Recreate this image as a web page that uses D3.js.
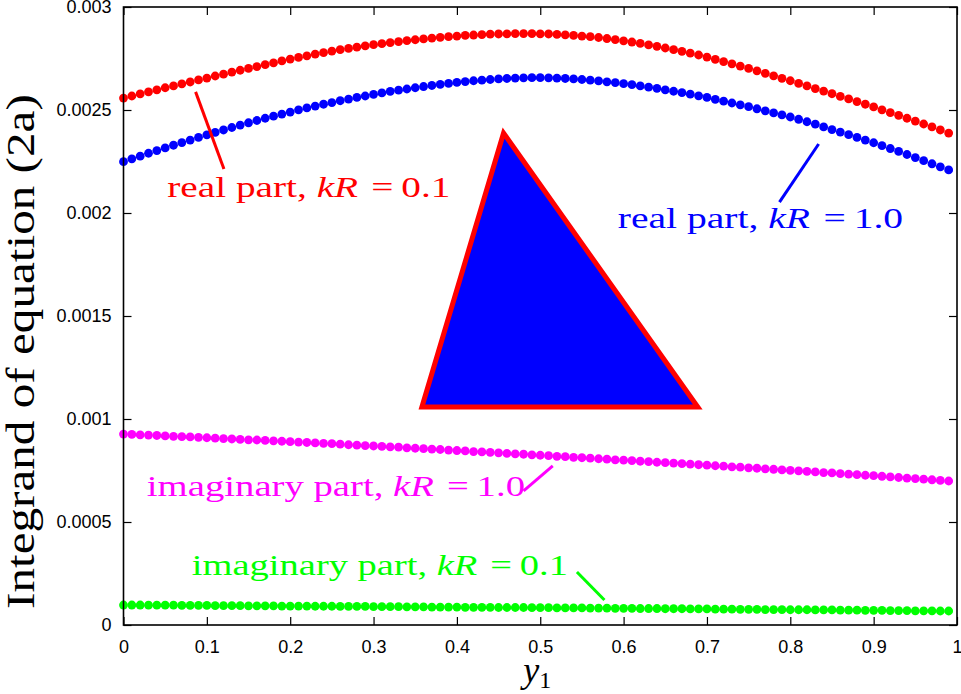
<!DOCTYPE html>
<html lang="en">
<head>
<meta charset="UTF-8">
<title>Integrand of equation (2a)</title>
<style>
    body { margin: 0; background: #fff; }
    svg { display: block; }
    .lab { font-family: "Liberation Serif", "Times New Roman", serif; }
</style>
</head>
<body>
<script src="https://cdn.jsdelivr.net/npm/d3@7"></script>
<script type="text/javascript">
    var w = 961;
    var h = 694;
    var margin = {left: 123.5, right: 4, top: 7, bottom: 69};

    // y1 positions, step 0.01 from 0 to 0.99
    var xs = d3.range(100).map(function(i) { return i / 100; });

    // values, in units of 1e-6
    var realKR01 = [
        2558, 2568, 2578, 2588, 2598, 2608, 2617, 2627, 2636, 2646, 2655,
        2665, 2674, 2684, 2693, 2702, 2711, 2720, 2729, 2738, 2747,
        2755, 2763, 2771, 2779, 2786, 2793, 2799, 2805, 2811, 2817,
        2822, 2827, 2832, 2837, 2841, 2845, 2849, 2853, 2856, 2859,
        2862, 2864, 2866, 2868, 2869, 2870, 2871, 2871, 2871, 2870,
        2869, 2867, 2865, 2862, 2859, 2856, 2852, 2847, 2842, 2836,
        2830, 2823, 2816, 2809, 2801, 2793, 2785, 2776, 2767, 2757,
        2746, 2735, 2724, 2713, 2702, 2690, 2678, 2666, 2654, 2642,
        2629, 2617, 2604, 2592, 2579, 2566, 2554, 2541, 2528, 2515,
        2501, 2487, 2474, 2460, 2446, 2432, 2418, 2403, 2388
    ];
    var realKR10 = [
        2249, 2263, 2276, 2290, 2303, 2316, 2329, 2342, 2354, 2367, 2379,
        2391, 2403, 2415, 2427, 2438, 2449, 2460, 2470, 2480, 2490,
        2501, 2510, 2519, 2528, 2536, 2545, 2553, 2561, 2568, 2576,
        2583, 2590, 2596, 2602, 2608, 2614, 2619, 2624, 2629, 2634,
        2638, 2642, 2645, 2648, 2651, 2653, 2655, 2656, 2657, 2657,
        2656, 2655, 2653, 2651, 2648, 2645, 2641, 2637, 2633, 2628,
        2623, 2617, 2611, 2605, 2598, 2591, 2584, 2577, 2569, 2561,
        2552, 2543, 2534, 2525, 2516, 2506, 2496, 2486, 2476, 2466,
        2455, 2443, 2431, 2418, 2405, 2393, 2380, 2367, 2354, 2341,
        2327, 2313, 2299, 2284, 2269, 2254, 2239, 2224, 2209
    ];
    var imagKR10 = [
        927, 925, 923, 922, 920, 918, 916, 914, 913, 911, 909,
        907, 905, 903, 901, 899, 898, 896, 894, 892, 890,
        888, 886, 884, 882, 880, 878, 875, 873, 871, 869,
        867, 865, 863, 860, 858, 856, 854, 852, 849, 847,
        845, 842, 840, 838, 836, 833, 831, 829, 826, 824,
        822, 819, 817, 814, 812, 810, 807, 805, 802, 800,
        798, 795, 793, 790, 788, 786, 783, 781, 778, 776,
        773, 771, 768, 766, 763, 761, 758, 756, 753, 751,
        748, 746, 743, 740, 738, 735, 732, 730, 727, 725,
        722, 719, 716, 713, 711, 708, 705, 702, 699
    ];
    var imagKR01 = [
        97, 97, 97, 96, 96, 96, 96, 95, 95, 95, 95,
        94, 94, 94, 94, 93, 93, 93, 93, 92, 92,
        92, 92, 91, 91, 91, 90, 90, 90, 90, 89,
        89, 89, 89, 88, 88, 88, 87, 87, 87, 87,
        86, 86, 86, 86, 85, 85, 85, 85, 84, 84,
        84, 83, 83, 83, 83, 82, 82, 82, 81, 81,
        81, 80, 80, 80, 79, 79, 79, 78, 78, 78,
        77, 77, 77, 76, 76, 76, 75, 75, 75, 74,
        74, 74, 73, 73, 73, 72, 72, 72, 71, 71,
        71, 70, 70, 70, 69, 69, 69, 68, 68
    ];

    var xTicks = [0, 0.1, 0.2, 0.3, 0.4, 0.5, 0.6, 0.7, 0.8, 0.9, 1];
    var xTickLabels = ["0", "0.1", "0.2", "0.3", "0.4", "0.5", "0.6", "0.7", "0.8", "0.9", "1"];
    var yTicks = [0, 0.0005, 0.001, 0.0015, 0.002, 0.0025, 0.003];
    var yTickLabels = ["0", "0.0005", "0.001", "0.0015", "0.002", "0.0025", "0.003"];

    var series = [
        {values: realKR01, color: "#ff0000"},
        {values: realKR10, color: "#0000ff"},
        {values: imagKR10, color: "#ff00ff"},
        {values: imagKR01, color: "#00ff00"}
    ];

    var xScale = d3.scaleLinear().domain([0, 1]).range([margin.left, w - margin.right]);
    var yScale = d3.scaleLinear().domain([0, 0.003]).range([h - margin.bottom, margin.top]);

    var svg = d3.select("body").append("svg")
        .attr("width", w)
        .attr("height", h);

    //Dots
    series.forEach(function(s) {
        svg.append("g")
            .selectAll("circle")
            .data(s.values)
            .enter()
            .append("circle")
            .attr("cx", function(d, i) { return xScale(xs[i]); })
            .attr("cy", function(d) { return yScale(d * 1e-6); })
            .attr("r", 4.4)
            .attr("fill", s.color);
    });

    //Axes with inward ticks, mirrored
    var tick = 8;
    svg.append("g")
        .attr("transform", "translate(0," + yScale(0) + ")")
        .call(d3.axisBottom(xScale).tickValues(xTicks).tickSize(-tick).tickPadding(tick + 7)
            .tickFormat(function(d, i) { return xTickLabels[i]; }))
        .call(function(g) { g.select(".domain").remove(); });
    svg.append("g")
        .attr("transform", "translate(0," + yScale(0.003) + ")")
        .call(d3.axisTop(xScale).tickValues(xTicks).tickSize(-tick).tickFormat(""))
        .call(function(g) { g.select(".domain").remove(); });
    svg.append("g")
        .attr("transform", "translate(" + xScale(0) + ",0)")
        .call(d3.axisLeft(yScale).tickValues(yTicks).tickSize(-tick).tickPadding(tick + 4)
            .tickFormat(function(d, i) { return yTickLabels[i]; }))
        .call(function(g) { g.select(".domain").remove(); });
    svg.append("g")
        .attr("transform", "translate(" + xScale(1) + ",0)")
        .call(d3.axisRight(yScale).tickValues(yTicks).tickSize(-tick).tickFormat(""))
        .call(function(g) { g.select(".domain").remove(); });
    svg.selectAll(".tick line").attr("stroke", "#000").attr("stroke-width", 1.2);
    svg.selectAll(".tick text")
        .attr("fill", "#000")
        .style("font-family", "'Liberation Sans', Arial, sans-serif")
        .style("font-size", "18px");

    svg.append("rect")
        .attr("x", xScale(0))
        .attr("y", yScale(0.003))
        .attr("width", xScale(1) - xScale(0))
        .attr("height", yScale(0) - yScale(0.003))
        .attr("fill", "none")
        .attr("stroke", "#000")
        .attr("stroke-width", 1.6);

    //Triangle
    var tri = [[0.456, 0.002388], [0.358, 0.001058], [0.689, 0.001058]];
    svg.append("polygon")
        .attr("points", tri.map(function(p) { return xScale(p[0]) + "," + yScale(p[1]); }).join(" "))
        .attr("fill", "#0000ff")
        .attr("stroke", "#ff0000")
        .attr("stroke-width", 5)
        .attr("stroke-linejoin", "miter");

    // stretch a text sideways so it fills the width the reference (Computer Modern) takes
    function fitWidth(t, x, y, width, rot) {
        var natural = t.node().getComputedTextLength();
        var sx = width / natural;
        t.attr("transform", "translate(" + x + "," + y + ")" + (rot ? " rotate(" + rot + ")" : "") + " scale(" + sx + ",1)");
    }

    //Labels with leader lines
    var labels = [
        {pre: "real part, ", val: "0.1", x: 0.0525, y: 0.00208, width: 278, color: "#ff0000",
            line: [[0.0865, 0.002588], [0.1205, 0.002214]]},
        {pre: "real part, ", val: "1.0", x: 0.593, y: 0.001925, width: 280, color: "#0000ff",
            line: [[0.834, 0.002335], [0.787, 0.002053]]},
        {pre: "imaginary part, ", val: "1.0", x: 0.028, y: 0.000626, width: 373, color: "#ff00ff",
            line: [[0.515, 0.000772], [0.48, 0.000651]]},
        {pre: "imaginary part, ", val: "0.1", x: 0.082, y: 0.000243, width: 371, color: "#00ff00",
            line: [[0.544, 0.000257], [0.577, 0.000121]]}
    ];
    labels.forEach(function(l) {
        svg.append("line")
            .attr("x1", xScale(l.line[0][0])).attr("y1", yScale(l.line[0][1]))
            .attr("x2", xScale(l.line[1][0])).attr("y2", yScale(l.line[1][1]))
            .attr("stroke", l.color)
            .attr("stroke-width", 3);
        var t = svg.append("text")
            .attr("class", "lab")
            .attr("font-size", "29px")
            .attr("fill", l.color);
        t.append("tspan").text(l.pre);
        t.append("tspan").attr("font-style", "italic").text("kR");
        t.append("tspan").text("\u2009=\u2009" + l.val).attr("dx", 4);
        fitWidth(t, xScale(l.x), yScale(l.y), l.width);
    });

    //Axis titles
    var yt = svg.append("text")
        .attr("class", "lab")
        .attr("font-size", "39px")
        .text("Integrand of equation (2a)");
    fitWidth(yt, 34, 609, 515, -90);

    var xt = svg.append("text")
        .attr("class", "lab")
        .attr("x", xScale(0.5) - 17)
        .attr("y", 682)
        .attr("font-size", "36px");
    xt.append("tspan").attr("font-style", "italic").text("y");
    xt.append("tspan").attr("font-size", "24px").attr("dy", 6).text("1");
</script>
</body>
</html>
